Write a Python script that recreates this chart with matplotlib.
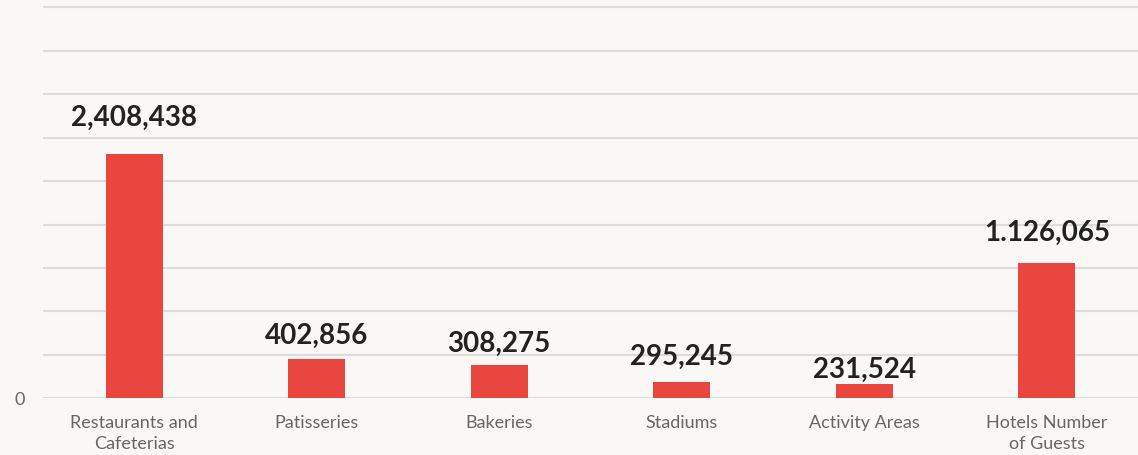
import matplotlib
matplotlib.use("Agg")
import matplotlib.pyplot as plt

# categories and the numbers printed over the bars
categories = ["Restaurants and\nCafeterias", "Patisseries", "Bakeries",
              "Stadiums", "Activity Areas", "Hotels Number\nof Guests"]
value_labels = ["2,408,438", "402,856", "308,275", "295,245", "231,524", "1.126,065"]

# bar heights as drawn in the picture (in gridline units, the source chart
# is not to scale with the printed numbers)
bar_heights = [5.62, 0.91, 0.77, 0.37, 0.32, 3.12]

# extra gap (points) between bar top and its label, as seen in the picture
label_gaps = [17, 7, 6, 9, 1, 12]

bg = "#f9f8f6"
red = "#e94640"
tick_color = "#666666"

fig = plt.figure(figsize=(11.38, 4.55), dpi=100, facecolor=bg)
ax = fig.add_axes([43 / 1138, 1 - 398.3 / 455, 1 - 43 / 1138, 398.3 / 455])
ax.set_facecolor(bg)

x = range(len(categories))
bars = ax.bar(x, bar_heights, width=0.31, color=red, zorder=3)

for rect, txt, gap in zip(bars, value_labels, label_gaps):
    ax.annotate(txt, (rect.get_x() + rect.get_width() / 2, rect.get_height()),
                xytext=(0, gap), textcoords="offset points",
                ha="center", va="bottom", fontsize=20, fontweight="bold",
                family="Lato", color="#222222", zorder=4)

ax.set_xlim(-0.5, len(categories) - 0.5)
ax.set_ylim(0, 9.17)
ax.set_yticks(range(0, 10))
ax.set_yticklabels(["0"] + [""] * 9)
ax.grid(axis="y", color="#dcdcdc", linewidth=1.5, zorder=0)
ax.set_xticks(list(x))
ax.set_xticklabels(categories, family="Lato", fontweight="normal",
                   fontsize=13, color=tick_color, linespacing=1.35)
for lbl in ax.get_yticklabels():
    lbl.set_family("Lato")
    lbl.set_fontsize(13)
    lbl.set_color(tick_color)
ax.tick_params(axis="both", length=0)
ax.tick_params(axis="x", pad=12)
ax.tick_params(axis="y", pad=13)
for s in ax.spines.values():
    s.set_visible(False)

fig.savefig("out.png", dpi=100, facecolor=bg)
